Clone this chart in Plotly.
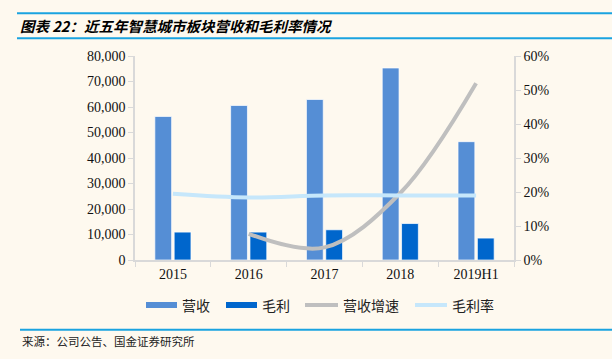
import plotly.graph_objects as go

categories = ["2015", "2016", "2017", "2018", "2019H1"]
revenue = [56300, 60600, 62950, 75300, 46400]
gross_profit = [10950, 10950, 11850, 14300, 8600]
revenue_growth = [None, 0.077, 0.037, 0.197, 0.52]
gross_margin = [0.195, 0.184, 0.190, 0.190, 0.190]

series_names = ["营收", "毛利", "营收增速", "毛利率"]
title_text = "图表 22：近五年智慧城市板块营收和毛利率情况"
source_text = "来源：公司公告、国金证券研究所"

C_REV = "#558ED5"
C_GP = "#0066CC"
C_GROW = "#BFBFBF"
C_GM = "#C6E7FB"
BG = "#FEF9EF"
AXIS = "#D9D9D9"
SERIF = "Liberation Serif, Times New Roman, serif"
CJK = "Noto Sans CJK SC, sans-serif"

fig = go.Figure()
fig.add_trace(go.Bar(x=categories, y=revenue, name=series_names[0],
                     marker=dict(color=C_REV, line=dict(color="rgba(255,255,255,0.7)", width=1))))
fig.add_trace(go.Bar(x=categories, y=gross_profit, name=series_names[1],
                     marker=dict(color=C_GP, line=dict(color="rgba(255,255,255,0.7)", width=1))))
fig.add_trace(go.Scatter(x=categories, y=revenue_growth, name=series_names[2], mode="lines", yaxis="y2",
                         line=dict(color=C_GROW, width=4, shape="spline", smoothing=1.0)))
fig.add_trace(go.Scatter(x=categories, y=gross_margin, name=series_names[3], mode="lines", yaxis="y2",
                         line=dict(color=C_GM, width=4, shape="spline", smoothing=1.0)))

L, R, T, B = 135, 98, 56, 99
PW, PH = 612 - L - R, 359 - T - B

def px(x):
    return (x - L) / PW

def py(y):
    return (359 - B - y) / PH

shapes = [
    dict(type="line", xref="paper", yref="paper", x0=px(17), x1=px(612), y0=py(13.3), y1=py(13.3),
         line=dict(color="#1AA3E0", width=2)),
    dict(type="line", xref="paper", yref="paper", x0=px(17), x1=px(612), y0=py(38.3), y1=py(38.3),
         line=dict(color="#1AA3E0", width=2)),
    dict(type="line", xref="paper", yref="paper", x0=px(20), x1=px(612), y0=py(329.7), y1=py(329.7),
         line=dict(color="#1AA3E0", width=2)),
]
annotations = [
    dict(text="<b><i>" + title_text + "</i></b>", xref="paper", yref="paper", x=px(18), y=py(25),
         xanchor="left", yanchor="middle", showarrow=False,
         font=dict(family=CJK, size=14.5, color="#000000")),
    dict(text=source_text, xref="paper", yref="paper", x=px(20), y=py(341),
         xanchor="left", yanchor="middle", showarrow=False,
         font=dict(family=CJK, size=11.5, color="#222222")),
]

# manual legend
legend_items = [(series_names[0], C_REV, 146, 177, 6), (series_names[1], C_GP, 226, 257, 6),
                (series_names[2], C_GROW, 305, 338, 4), (series_names[3], C_GM, 415, 447, 4)]
LY = 305
for name, color, x0, x1, h in legend_items:
    shapes.append(dict(type="rect", xref="paper", yref="paper", x0=px(x0), x1=px(x1),
                       y0=py(LY + h / 2), y1=py(LY - h / 2), fillcolor=color, line=dict(width=0)))
    annotations.append(dict(text=name, xref="paper", yref="paper", x=px(x1 + 3), y=py(LY),
                            xanchor="left", yanchor="middle", showarrow=False,
                            font=dict(family=CJK, size=14, color="#222222")))

fig.update_layout(
    width=612, height=359,
    margin=dict(l=L, r=R, t=T, b=B, autoexpand=False),
    paper_bgcolor=BG, plot_bgcolor=BG,
    barmode="group", bargap=0.49, bargroupgap=0.13,
    showlegend=False,
    xaxis=dict(type="category", showline=True, linecolor=AXIS, linewidth=1.5,
               ticks="outside", tickson="boundaries", ticklen=5, tickcolor=AXIS,
               tickfont=dict(family=SERIF, size=14, color="#111111"), showgrid=False,
               range=[-0.5, 4.5]),
    yaxis=dict(range=[0, 80000], dtick=10000, tickformat=",", showline=True, linecolor=AXIS, linewidth=1.5,
               ticks="outside", ticklen=5, tickcolor=AXIS, showgrid=False, zeroline=False,
               tickfont=dict(family=SERIF, size=14, color="#111111")),
    yaxis2=dict(range=[0, 0.6], dtick=0.1, tickformat=".0%", overlaying="y", side="right",
                showline=True, linecolor=AXIS, linewidth=1.5, ticks="outside", ticklen=5, tickcolor=AXIS,
                showgrid=False, zeroline=False,
                tickfont=dict(family=SERIF, size=14, color="#111111")),
    shapes=shapes,
    annotations=annotations,
)

fig.write_html("out.html", config={"displayModeBar": False},
               post_script="document.body.style.margin='0';document.body.style.background='" + BG + "';")
